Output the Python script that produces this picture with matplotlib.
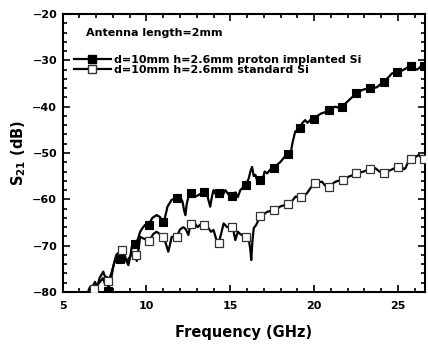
import matplotlib
matplotlib.use("Agg")
import matplotlib.pyplot as plt
from matplotlib.ticker import MultipleLocator

plt.rcParams['font.family'] = ['DejaVu Sans']
plt.rcParams['font.weight'] = 'bold'
plt.rcParams['mathtext.fontset'] = 'dejavusans'
plt.rcParams['mathtext.default'] = 'bf'

# ---- data ----
proton_f = [6.50, 6.75, 6.93, 7.05, 7.20, 7.42, 7.55, 7.63, 7.72, 7.85, 8.02, 8.20, 8.32, 8.42,
            8.60, 8.75, 8.92, 9.05, 9.12, 9.32, 9.50, 9.62, 9.80, 9.92, 10.12, 10.35, 10.60,
            10.80, 10.97, 11.10, 11.25, 11.50, 11.80, 12.00, 12.15, 12.25, 12.32, 12.40, 12.50,
            12.63, 12.85, 13.10, 13.30, 13.45, 13.65, 13.80, 13.90, 14.00, 14.15, 14.30, 14.50,
            14.70, 14.90, 15.10, 15.30, 15.45, 15.60, 15.75, 15.93, 16.10, 16.20, 16.30, 16.40,
            16.50, 16.60, 16.77, 16.95, 17.05, 17.20, 17.40, 17.60, 17.80, 18.00, 18.20, 18.42,
            18.57, 18.70, 18.87, 19.18, 19.30, 19.47, 19.60, 19.80, 20.02, 20.20, 20.40, 20.65,
            20.87, 21.05, 21.25, 21.45, 21.67, 21.90, 22.20, 22.52, 22.75, 22.95, 23.33, 23.55,
            23.75, 23.95, 24.15, 24.40, 24.65, 24.95, 25.20, 25.45, 25.60, 25.80, 26.00, 26.15,
            26.35, 26.60]
proton_db = [-81.0, -79.0, -77.8, -79.0, -77.0, -75.6, -77.0, -76.7, -79.2, -78.0, -74.5, -72.0,
             -71.6, -72.7, -73.5, -73.0, -74.2, -72.0, -70.2, -69.6, -68.5, -67.0, -66.0, -65.5,
             -65.5, -64.0, -63.4, -63.8, -64.8, -64.0, -61.6, -60.1, -59.8, -59.5, -60.5, -62.5,
             -63.4, -61.0, -59.5, -58.7, -59.5, -59.1, -58.6, -58.4, -59.5, -61.6, -59.5, -58.0,
             -59.0, -58.6, -59.5, -58.0, -59.0, -59.3, -58.5, -59.5, -58.0, -57.5, -56.9, -55.5,
             -54.0, -53.0, -55.0, -54.7, -56.0, -55.8, -55.5, -54.0, -54.4, -53.5, -53.1, -52.5,
             -51.9, -51.0, -50.2, -50.8, -48.0, -45.4, -44.5, -43.5, -42.9, -43.5, -42.8, -42.7,
             -42.0, -41.5, -41.2, -40.7, -40.5, -40.0, -40.2, -40.0, -39.2, -38.2, -37.1, -36.6,
             -36.3, -36.0, -36.0, -35.8, -35.2, -34.6, -33.8, -32.8, -32.6, -32.3, -31.8, -31.5,
             -31.2, -31.8, -32.0, -31.4, -31.0]

proton_mark_f = [7.72, 8.42, 9.32, 10.12, 10.97, 11.80, 12.63, 13.45, 14.30, 15.10, 15.93, 16.77,
                 17.60, 18.42, 19.18, 20.02, 20.87, 21.67, 22.52, 23.33, 24.15, 24.95, 25.80, 26.55]
proton_mark_db = [-79.8, -72.9, -69.7, -65.5, -64.8, -59.8, -58.7, -58.5, -58.6, -59.3, -56.9,
                  -55.8, -53.2, -50.3, -44.6, -42.7, -40.7, -40.0, -37.1, -36.0, -34.6, -32.6,
                  -31.2, -31.3]

std_f = [6.40, 6.63, 6.87, 7.05, 7.23, 7.40, 7.55, 7.72, 7.90, 8.05, 8.22, 8.52, 8.65, 8.82,
         9.00, 9.15, 9.32, 9.42, 9.55, 9.62, 9.85, 10.17, 10.40, 10.60, 10.80, 10.97, 11.15,
         11.30, 11.45, 11.50, 11.80, 12.00, 12.20, 12.35, 12.50, 12.63, 12.85, 13.05, 13.20,
         13.45, 13.65, 13.85, 14.00, 14.15, 14.30, 14.45, 14.60, 14.80, 15.10, 15.20, 15.30,
         15.45, 15.60, 15.95, 16.10, 16.20, 16.25, 16.32, 16.40, 16.55, 16.77, 17.00, 17.20,
         17.60, 17.80, 18.00, 18.20, 18.42, 18.65, 18.90, 19.18, 19.40, 19.57, 19.80, 20.02,
         20.25, 20.47, 20.65, 20.87, 21.05, 21.27, 21.45, 21.70, 21.90, 22.07, 22.30, 22.52,
         22.75, 22.96, 23.15, 23.36, 23.50, 23.66, 23.90, 24.15, 24.35, 24.55, 24.80, 25.00,
         25.20, 25.35, 25.45, 25.60, 25.80, 26.00, 26.24, 26.40, 26.60]
std_db = [-81.0, -78.9, -79.2, -78.5, -77.8, -77.0, -78.5, -77.8, -76.0, -74.0, -72.0, -70.9,
          -71.5, -73.4, -72.5, -71.5, -72.0, -73.3, -70.0, -68.1, -68.5, -68.9, -67.5, -67.0,
          -67.5, -68.2, -69.5, -71.3, -69.0, -68.1, -68.1, -66.5, -66.0, -66.5, -67.7, -65.3,
          -65.0, -66.0, -65.5, -65.5, -66.0, -67.0, -66.6, -68.5, -69.5, -67.5, -65.2, -66.0,
          -65.9, -67.0, -68.8, -67.0, -67.5, -68.2, -68.5, -71.0, -73.1, -69.0, -66.2, -65.5,
          -63.7, -63.2, -62.7, -62.3, -62.0, -61.5, -61.3, -61.0, -60.5, -59.4, -59.6, -59.2,
          -58.7, -57.5, -56.5, -56.3, -56.2, -57.0, -57.4, -56.8, -56.2, -56.0, -55.8, -55.4,
          -55.1, -54.8, -54.4, -54.2, -54.0, -53.7, -53.5, -53.3, -53.3, -54.0, -54.4, -54.0,
          -53.7, -53.3, -53.0, -52.8, -53.5, -53.3, -52.0, -51.4, -51.0, -50.4, -51.0, -51.2]

std_mark_f = [6.85, 7.72, 8.52, 9.35, 10.17, 10.97, 11.80, 12.63, 13.45, 14.30, 15.10, 15.95,
              16.77, 17.60, 18.42, 19.20, 20.05, 20.87, 21.70, 22.52, 23.36, 24.15, 25.00,
              25.80, 26.55]
std_mark_db = [-79.3, -77.6, -70.9, -72.0, -68.9, -68.2, -68.1, -65.3, -65.5, -69.5, -65.9,
               -68.2, -63.7, -62.3, -61.0, -59.6, -56.5, -57.4, -55.8, -54.4, -53.5, -54.4,
               -53.0, -51.4, -51.2]

labels = ['d=10mm h=2.6mm proton implanted Si', 'd=10mm h=2.6mm standard Si']
legend_title = 'Antenna length=2mm'
xlabel = 'Frequency (GHz)'
ylabel = 'S$_{21}$ (dB)'

# ---- figure ----
fig = plt.figure(figsize=(4.28, 3.45), dpi=100)
ax = fig.add_axes([0.1465, 0.1536, 0.8458, 0.8058])

lw = 1.6
ms = 6.3
ax.plot(proton_f, proton_db, color='black', lw=lw, zorder=2)
ax.plot(std_f, std_db, color='black', lw=lw, zorder=2)
ax.plot(proton_mark_f, proton_mark_db, ls='none', marker='s', ms=ms, mfc='black',
        mec='black', mew=0.8, zorder=3)
ax.plot(std_mark_f, std_mark_db, ls='none', marker='s', ms=ms, mfc='white',
        mec='#333333', mew=0.9, zorder=3)

# legend handles
h1, = ax.plot([], [], color='black', lw=lw, marker='s', ms=ms, mfc='black', mec='black')
h2, = ax.plot([], [], color='black', lw=lw, marker='s', ms=ms, mfc='white', mec='#333333')
leg = ax.legend([h1, h2], labels, loc='upper left', bbox_to_anchor=(0.031, 0.853),
                frameon=False, fontsize=8, handlelength=3.3, handletextpad=0.3,
                labelspacing=0.0, borderaxespad=0.0, borderpad=0.0)
ax.text(0.064, 0.932, legend_title, transform=ax.transAxes, fontsize=8,
        fontweight='bold', va='center', ha='left')

ax.set_xlim(5, 26.6)
ax.set_ylim(-80, -20)
ax.xaxis.set_major_locator(MultipleLocator(5))
ax.xaxis.set_minor_locator(MultipleLocator(1))
ax.yaxis.set_major_locator(MultipleLocator(10))
ax.yaxis.set_minor_locator(MultipleLocator(2))
ax.tick_params(which='both', direction='in', top=True, right=True, width=1.2)
ax.tick_params(which='major', length=5, labelsize=8)
ax.tick_params(axis='x', which='major', pad=6.5)
ax.tick_params(axis='y', which='major', pad=4)
ax.tick_params(which='minor', length=3)
for lab in ax.get_xticklabels() + ax.get_yticklabels():
    lab.set_fontweight('bold')
for s in ax.spines.values():
    s.set_linewidth(1.5)

ax.set_xlabel(xlabel, fontsize=10.5, fontweight='bold', labelpad=10)
ax.set_ylabel(ylabel, fontsize=10.5, fontweight='bold', labelpad=3)

fig.savefig('out.png', dpi=100)
